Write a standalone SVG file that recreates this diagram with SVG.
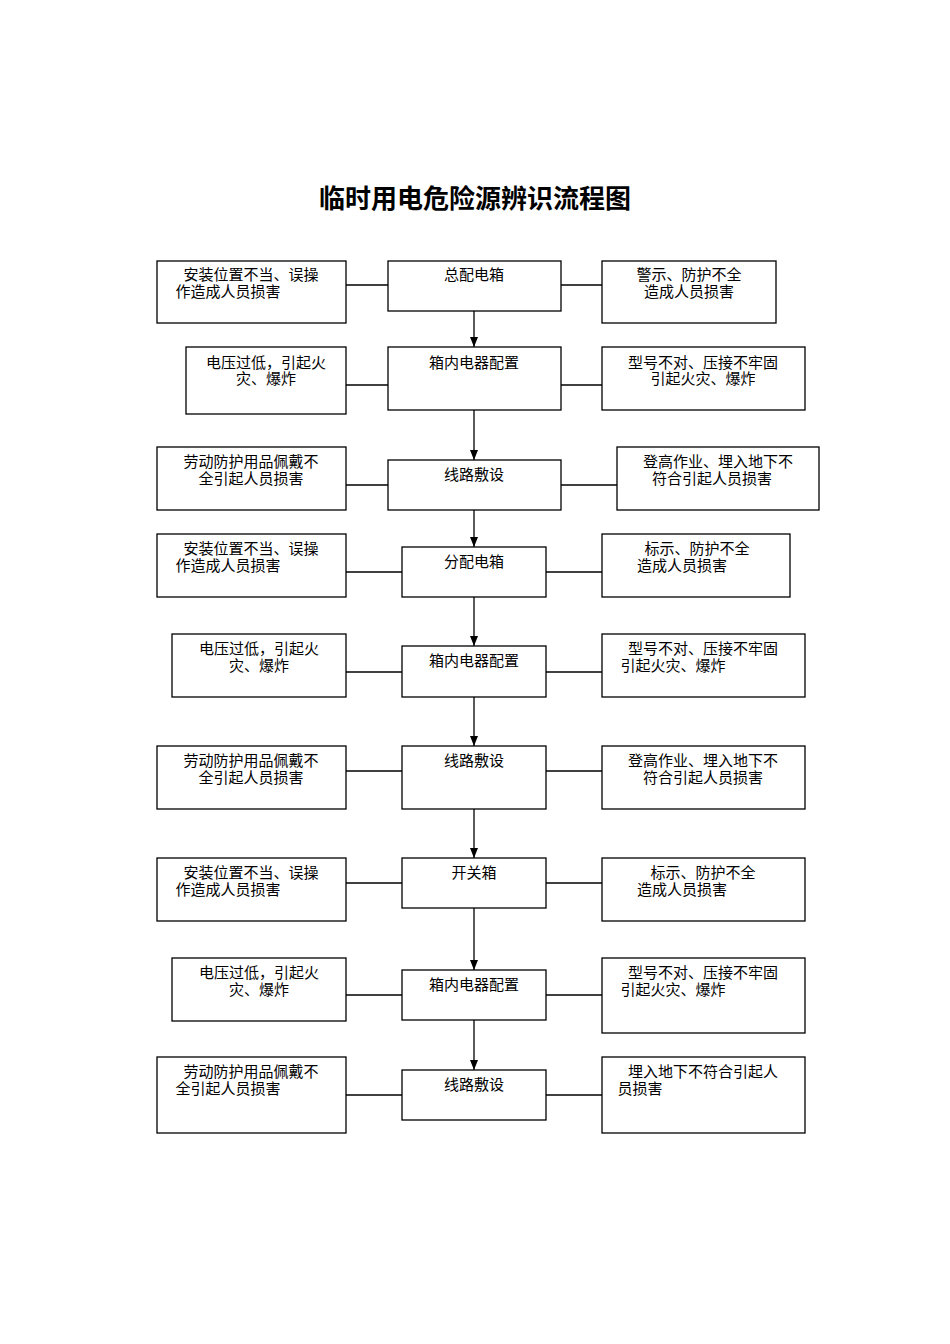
<svg xmlns="http://www.w3.org/2000/svg" width="950" height="1344" viewBox="0 0 950 1344">
<defs><marker id="a" markerWidth="8" markerHeight="10" refX="4" refY="10" orient="auto" viewBox="0 0 8 10" markerUnits="userSpaceOnUse"><path d="M0,0 L8,0 L4,10 Z" fill="#000" transform="rotate(-90 4 5)"/></marker>
<marker id="b" viewBox="0 0 10 8" refX="10" refY="4" markerWidth="10" markerHeight="8" orient="auto" markerUnits="userSpaceOnUse"><path d="M0,0 L10,4 L0,8 Z" fill="#000"/></marker></defs>
<style>rect{fill:#fff;stroke:#000;stroke-width:1.3}line{stroke:#000;stroke-width:1.3}text{font-family:"Liberation Serif","Noto Sans CJK SC",serif;font-size:15px;fill:#000;text-anchor:middle}.t{font-size:26px;font-weight:bold}</style>
<text class="t" x="475" y="208">临时用电危险源辨识流程图</text>
<g id="connectors">
<line x1="346" y1="285" x2="388" y2="285"/><line x1="561" y1="285" x2="602" y2="285"/>
<line x1="346" y1="385" x2="388" y2="385"/><line x1="561" y1="385" x2="602" y2="385"/>
<line x1="346" y1="485" x2="388" y2="485"/><line x1="561" y1="485" x2="617" y2="485"/>
<line x1="346" y1="572" x2="402" y2="572"/><line x1="546" y1="572" x2="602" y2="572"/>
<line x1="346" y1="672" x2="402" y2="672"/><line x1="546" y1="672" x2="602" y2="672"/>
<line x1="346" y1="771" x2="402" y2="771"/><line x1="546" y1="771" x2="602" y2="771"/>
<line x1="346" y1="883" x2="402" y2="883"/><line x1="546" y1="883" x2="602" y2="883"/>
<line x1="346" y1="995" x2="402" y2="995"/><line x1="546" y1="995" x2="602" y2="995"/>
<line x1="346" y1="1095" x2="402" y2="1095"/><line x1="546" y1="1095" x2="602" y2="1095"/>
<line x1="474" y1="311" x2="474" y2="347" marker-end="url(#b)"/>
<line x1="474" y1="410" x2="474" y2="460" marker-end="url(#b)"/>
<line x1="474" y1="510" x2="474" y2="547" marker-end="url(#b)"/>
<line x1="474" y1="597" x2="474" y2="646" marker-end="url(#b)"/>
<line x1="474" y1="697" x2="474" y2="746" marker-end="url(#b)"/>
<line x1="474" y1="809" x2="474" y2="858" marker-end="url(#b)"/>
<line x1="474" y1="908" x2="474" y2="970" marker-end="url(#b)"/>
<line x1="474" y1="1020" x2="474" y2="1070" marker-end="url(#b)"/>
</g>
<g id="c1"><rect x="388" y="261" width="173" height="50"/><text x="474" y="280">总配电箱</text></g>
<g id="l1"><rect x="157" y="261" width="189" height="62"/><text x="251" y="280">安装位置不当、误操</text><text x="228" y="297">作造成人员损害</text></g>
<g id="r1"><rect x="602" y="261" width="174" height="62"/><text x="689" y="280">警示、防护不全</text><text x="689" y="297">造成人员损害</text></g>
<g id="c2"><rect x="388" y="347" width="173" height="63"/><text x="474" y="368">箱内电器配置</text></g>
<g id="l2"><rect x="186" y="347" width="160" height="67"/><text x="266" y="368">电压过低，引起火</text><text x="266" y="384">灾、爆炸</text></g>
<g id="r2"><rect x="602" y="347" width="203" height="63"/><text x="703" y="368">型号不对、压接不牢固</text><text x="703" y="384">引起火灾、爆炸</text></g>
<g id="c3"><rect x="388" y="460" width="173" height="50"/><text x="474" y="480">线路敷设</text></g>
<g id="l3"><rect x="157" y="447" width="189" height="63"/><text x="251" y="467">劳动防护用品佩戴不</text><text x="251" y="484">全引起人员损害</text></g>
<g id="r3"><rect x="617" y="447" width="202" height="63"/><text x="718" y="467">登高作业、埋入地下不</text><text x="712" y="484">符合引起人员损害</text></g>
<g id="c4"><rect x="402" y="547" width="144" height="50"/><text x="474" y="567">分配电箱</text></g>
<g id="l4"><rect x="157" y="534" width="189" height="63"/><text x="251" y="554">安装位置不当、误操</text><text x="228" y="571">作造成人员损害</text></g>
<g id="r4"><rect x="602" y="534" width="188" height="63"/><text x="697" y="554">标示、防护不全</text><text x="682" y="571">造成人员损害</text></g>
<g id="c5"><rect x="402" y="646" width="144" height="51"/><text x="474" y="666">箱内电器配置</text></g>
<g id="l5"><rect x="172" y="634" width="174" height="63"/><text x="259" y="654">电压过低，引起火</text><text x="259" y="671">灾、爆炸</text></g>
<g id="r5"><rect x="602" y="634" width="203" height="63"/><text x="703" y="654">型号不对、压接不牢固</text><text x="673" y="671">引起火灾、爆炸</text></g>
<g id="c6"><rect x="402" y="746" width="144" height="63"/><text x="474" y="766">线路敷设</text></g>
<g id="l6"><rect x="157" y="746" width="189" height="63"/><text x="251" y="766">劳动防护用品佩戴不</text><text x="251" y="783">全引起人员损害</text></g>
<g id="r6"><rect x="602" y="746" width="203" height="63"/><text x="703" y="766">登高作业、埋入地下不</text><text x="703" y="783">符合引起人员损害</text></g>
<g id="c7"><rect x="402" y="858" width="144" height="50"/><text x="474" y="878">开关箱</text></g>
<g id="l7"><rect x="157" y="858" width="189" height="63"/><text x="251" y="878">安装位置不当、误操</text><text x="228" y="895">作造成人员损害</text></g>
<g id="r7"><rect x="602" y="858" width="203" height="63"/><text x="703" y="878">标示、防护不全</text><text x="682" y="895">造成人员损害</text></g>
<g id="c8"><rect x="402" y="970" width="144" height="50"/><text x="474" y="990">箱内电器配置</text></g>
<g id="l8"><rect x="172" y="958" width="174" height="63"/><text x="259" y="978">电压过低，引起火</text><text x="259" y="995">灾、爆炸</text></g>
<g id="r8"><rect x="602" y="958" width="203" height="75"/><text x="703" y="978">型号不对、压接不牢固</text><text x="673" y="995">引起火灾、爆炸</text></g>
<g id="c9"><rect x="402" y="1070" width="144" height="50"/><text x="474" y="1090">线路敷设</text></g>
<g id="l9"><rect x="157" y="1057" width="189" height="76"/><text x="251" y="1077">劳动防护用品佩戴不</text><text x="228" y="1094">全引起人员损害</text></g>
<g id="r9"><rect x="602" y="1057" width="203" height="76"/><text x="703" y="1077">埋入地下不符合引起人</text><text x="640" y="1094">员损害</text></g>
</svg>
